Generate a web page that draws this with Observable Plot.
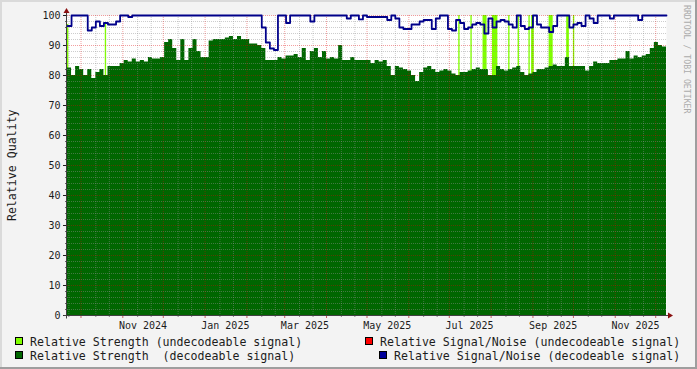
<!DOCTYPE html>
<html><head><meta charset="utf-8">
<script src="https://cdn.jsdelivr.net/npm/d3@7"></script>
<script src="https://cdn.jsdelivr.net/npm/@observablehq/plot@0.6"></script>
<style>
html,body{margin:0;padding:0;background:#f3f3f3;}
#wrap{position:relative;width:697px;height:369px;overflow:hidden;background:#f3f3f3;}
#wrap svg{position:absolute;left:0;top:0;}
</style></head>
<body><div id="wrap"></div>
<script>
// ---- data ----
const startDate = "2024-09-21";
const stepDays = 3;
const strength = [82.5,80,83,82,80,82,79,81,82,80,83,83,83,84,85,84.5,85.5,84.5,85,84.5,86,85.5,85.5,86,91,92,89,85,92,85,89,92,88,86,86,91.5,92,92,
 92,92.5,93,92,93,92,92,90.5,90.5,90,89,85,85,85,86,85.5,86.5,86.5,87,86,89,85,88,89,86,88,85.5,86,85.5,90,85,85,86,85,85,85,85,84,
 85,84.5,85,83,80,83,82.5,82,81.5,80,78,81,82.5,83,82,81,81.5,82,81.5,80.5,80,81,81,81.5,82,82.5,82,82,80,80,83,82,81.5,82,82.5,83,81,80,
 80.5,81,82,82,82.5,83,83.5,83,83,86,83,83,83,83,81.5,83,84.5,84,84,84,85,85,85.5,85.5,88,85.5,86.5,86,86.5,87,89,91,90,89.5];
const snr = [96.5,100,100,100,100,95,96,98,96.5,97.5,97,97,98,100,100,99.5,
 100,100,100,100,100,100,100,100,100,100,100,100,100,100,100,100,100,100,100,100,100,100,100,100,100,100,100,100,100,100,100,100,
 96,91,89,88.5,100,100,97.5,100,100,100,100,100,98,100,100,100,100,100,100,100,100,99,100,100,98.7,100,
 99.5,99.5,99.5,99.5,99.5,98.5,100,99,96,95.5,95.5,97,97,98,98.5,98.5,95.5,99,100,100,95.5,95,98.5,97.5,95.5,96,97,97.5,97,94,99,96,98,98.5,98,97,96,100,96.5,95.5,96,100,97,96,96,94.5,96.5,
 100,100,100,96,97,97.5,96.5,100,99,97.5,100,100,100,99,100,100,100,100,100,100,98.5,100,100,100,100,100,100];
const undecStart = ["2024-09-21","2024-10-19","2025-07-08","2025-07-17","2025-07-26","2025-08-02","2025-08-14","2025-08-21","2025-08-29","2025-08-31","2025-09-13","2025-09-26","2025-10-01"];
const undecDays  = [1,1,1,1,3,4,1,1,1,2,3,2,1];
const undecTop   = [97,97,100,100,100,100,100,100,100,100,100,100,100];
const xTickLabels = ["Nov 2024","Jan 2025","Mar 2025","May 2025","Jul 2025","Sep 2025","Nov 2025"];
const yTicks = [0,10,20,30,40,50,60,70,80,90,100];
const yLabel = "Relative Quality";
const legendLabels = ["Relative Strength (undecodeable signal)","Relative Signal/Noise (undecodeable signal)","Relative Strength  (decodeable signal)","Relative Signal/Noise (decodeable signal)"];
const legendColors = ["#80ff00","#ff0000","#006600","#000099"];
const watermark = "RRDTOOL / TOBI OETIKER";

// ---- build tables ----
const DAY = 864e5;
const parseDay = d3.utcParse("%Y-%m-%d");
const t0 = parseDay(startDate);
const rows = strength.map((v, i) => ({date: new Date(+t0 + i * stepDays * DAY), strength: v, snr: snr[i]}));
const tEnd = new Date(+t0 + strength.length * stepDays * DAY);
rows.push({date: tEnd, strength: strength[strength.length - 1], snr: snr[snr.length - 1]});
const undec = undecStart.map((s, i) => ({x1: parseDay(s), x2: new Date(+parseDay(s) + undecDays[i] * DAY), top: undecTop[i]}));

const parseMonth = d3.utcParse("%b %Y");
const labelDates = xTickLabels.map(l => d3.utcDay.offset(parseMonth(l), 15));
const labelMap = new Map(labelDates.map((d, i) => [+d, xTickLabels[i]]));
const monthStarts = d3.utcMonth.range(d3.utcDay.offset(t0, 1), tEnd);
const minorX = d3.utcMonth.range(d3.utcMonth.floor(t0), tEnd)
  .flatMap(m => [d3.utcDay.offset(m, 11), d3.utcDay.offset(m, 21)])
  .filter(d => d > t0 && d < tEnd);
const minorY = d3.range(2, 100, 2).filter(v => v % 10 !== 0);
const majorY = yTicks.filter(v => v > 0);

const FONT = "DejaVu Sans Mono";
const chart = Plot.plot({
  width: 697, height: 369,
  marginLeft: 67, marginRight: 31, marginTop: 15, marginBottom: 54,
  style: {background: "transparent", fontFamily: FONT, fontSize: "10px", color: "#1c1c1c", overflow: "visible"},
  x: {type: "utc", domain: [t0, tEnd]},
  y: {domain: [0, 100]},
  marks: [
    Plot.frame({fill: "white", stroke: null}),
    Plot.rectY(undec, {x1: "x1", x2: "x2", y1: 0, y2: "top", fill: legendColors[0]}),
    Plot.areaY(rows, {x: "date", y: "strength", curve: "step-after", fill: legendColors[2]}),
    Plot.ruleY(minorY, {stroke: "#909090", strokeOpacity: 0.45, strokeDasharray: "1,1"}),
    Plot.ruleX(minorX, {stroke: "#909090", strokeOpacity: 0.45, strokeDasharray: "1,1"}),
    Plot.ruleY(majorY, {stroke: "#e00000", strokeOpacity: 0.38, strokeDasharray: "1,1"}),
    Plot.ruleX(monthStarts, {stroke: "#e00000", strokeOpacity: 0.38, strokeDasharray: "1,1"}),
    Plot.lineY(rows, {x: "date", y: "snr", curve: "step-after", stroke: "#00008a", strokeWidth: 1.8}),
    Plot.axisY({ticks: yTicks, tickSize: 4, tickPadding: 3, label: null, fontSize: 10}),
    Plot.axisY({ticks: minorY, tickSize: 2, tickFormat: () => "", label: null, stroke: "#666"}),
    Plot.axisX({ticks: minorX, tickSize: 2, tickFormat: () => "", label: null, stroke: "#888"}),
    Plot.axisX({ticks: monthStarts, tickSize: 3, tickFormat: () => "", label: null, stroke: "#c86060"}),
    Plot.axisX({ticks: labelDates, tickSize: 0, tickPadding: 6, tickFormat: d => labelMap.get(+d), label: null, fontSize: 10})
  ]
});
document.getElementById("wrap").appendChild(chart);

// ---- axis lines, arrows, labels, legend ----
const svg = d3.select(chart);
const X = chart.scale("x"), Y = chart.scale("y");
const xa = Math.round(X.apply(t0)) - 0.5, xb = X.apply(tEnd);
const y0 = Math.round(Y.apply(0)) + 0.5, y100 = Y.apply(100);
svg.append("path").attr("d", `M${xa},${y0 + 3}V${y100 - 3}`).attr("stroke", "#404040").attr("fill", "none");
svg.append("path").attr("d", `M${xa - 3},${y0}H${xb + 2}`).attr("stroke", "#404040").attr("fill", "none");
svg.append("path").attr("d", `M${xa},${y100 - 7}L${xa - 3},${y100 - 2}L${xa + 3},${y100 - 2}Z`).attr("fill", "#8a1010");
svg.append("path").attr("d", `M${xb + 7},${y0}L${xb + 2},${y0 - 3}L${xb + 2},${y0 + 3}Z`).attr("fill", "#8a1010");

svg.append("text").text(yLabel)
  .attr("transform", `translate(16,${(y0 + y100) / 2}) rotate(-90)`)
  .attr("text-anchor", "middle").attr("font-family", FONT).attr("font-size", 11.6).attr("fill", "#1c1c1c");

svg.append("text").text(watermark)
  .attr("transform", "translate(684,5) rotate(90)").attr("text-anchor", "start")
  .attr("font-family", FONT).attr("font-size", 8.2).attr("fill", "#ababab");

const legendPos = [[15, 337, 30], [365, 337, 380], [15, 351, 30], [379, 351, 394]];
legendLabels.forEach((lab, i) => {
  const [sx, sy, tx] = legendPos[i];
  svg.append("rect").attr("x", sx + 0.5).attr("y", sy + 0.5).attr("width", 7).attr("height", 7)
    .attr("fill", legendColors[i]).attr("stroke", "#000");
  svg.append("text").text(lab).attr("x", tx).attr("y", sy + 8.5).attr("text-anchor", "start")
    .attr("font-family", FONT).attr("font-size", 11.6).attr("fill", "#1c1c1c")
    .style("white-space", "pre");
});

// outer shade border
svg.append("path").attr("d", "M0,1H697M1,0V369").attr("stroke", "#dadada").attr("stroke-width", 2);
svg.append("path").attr("d", "M696,0V369M0,368H697").attr("stroke", "#9e9e9e").attr("stroke-width", 2);
</script>
</body></html>
